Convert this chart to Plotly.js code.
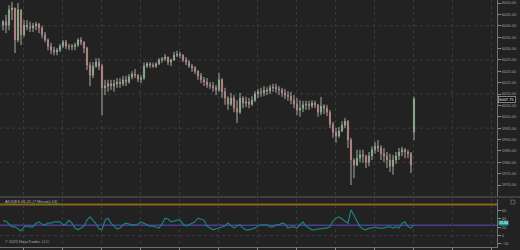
<!DOCTYPE html>
<html><head><meta charset="utf-8">
<script src="https://cdn.plot.ly/plotly-3.0.1.min.js"></script>
<style>html,body{margin:0;padding:0;background:#222;}#chart{width:520px;height:250px;}</style>
</head><body><div id="chart"></div>
<script>
const open = [6040.25, 6041.75, 6040.25, 6047, 6047.75, 6033.75, 6047, 6036, 6040.25, 6039.5,
6039, 6040, 6040.75, 6039, 6036, 6033.75, 6031, 6029.25, 6028.5, 6029.25,
6031, 6032.75, 6031, 6030.75, 6031, 6031.5, 6033.75, 6032.75, 6030.25, 6022.75,
6018.25, 6022.25, 6024, 6022.25, 6012.75, 6013.5, 6014.5, 6013.5, 6014.5, 6015.25,
6014.5, 6016.25, 6015.25, 6017.5, 6018.75, 6018.25, 6016.5, 6017, 6022.25, 6023.25,
6022.75, 6022.25, 6023.25, 6025, 6025.5, 6026.25, 6024, 6025, 6027, 6027.5,
6027, 6025, 6024, 6022.25, 6021.5, 6020, 6018, 6016.25, 6015.25, 6014,
6013.5, 6012.75, 6011.75, 6016.25, 6011, 6008.25, 6005.5, 6008.25, 6003.75, 6002,
6008.25, 6006, 6006.5, 6005.5, 6007.25, 6010, 6011, 6010.5, 6011.75, 6011.25,
6012.75, 6013, 6012.25, 6011.75, 6010.5, 6009.5, 6009, 6007.25, 6005.5, 6003,
6003.75, 6005.25, 6005.5, 6004.75, 6006, 6005.25, 6002, 6004.75, 6003.75, 6002,
5996.75, 5993.25, 5991.5, 5993.75, 5996.25, 5998, 5989.75, 5981, 5978.75, 5981.75,
5983.25, 5982.75, 5980, 5982.75, 5985.5, 5987, 5986.25, 5983.75, 5982.75, 5981,
5978.25, 5981, 5982.75, 5984.5, 5985.5, 5984.5, 5983.75, 5993.25];
const high = [6042.5, 6044.75, 6049, 6050.5, 6048, 6050, 6047.25, 6042.5, 6042.5, 6041.75,
6041.25, 6041.75, 6041.25, 6040, 6037.25, 6034.5, 6032.5, 6030.75, 6030.25, 6032,
6033.75, 6033.75, 6032, 6032, 6032.5, 6034.5, 6035, 6033.25, 6030.75, 6024,
6024, 6025.75, 6025.75, 6023.25, 6016.25, 6016.25, 6016.25, 6016.25, 6017, 6017,
6018, 6018, 6018.75, 6020, 6021, 6018.75, 6018.25, 6023.75, 6024, 6024,
6023.75, 6024, 6025.75, 6026.25, 6027.5, 6026.5, 6025.5, 6028.5, 6029, 6028.5,
6027.5, 6026.25, 6025, 6023.25, 6022.25, 6020.5, 6019.25, 6017.5, 6017, 6015.25,
6015.25, 6014, 6019.25, 6017, 6012.75, 6009, 6010.5, 6009.5, 6007.25, 6010.5,
6009, 6008.75, 6008.25, 6009, 6011.25, 6012.25, 6012.75, 6013.5, 6013, 6014,
6014.5, 6014.5, 6013.5, 6012.75, 6012.25, 6011.25, 6011, 6009.5, 6008.25, 6007.25,
6007, 6007, 6007, 6007.25, 6007, 6005.5, 6008.75, 6005.5, 6005.25, 6003,
5997.75, 5995, 5995.5, 5998, 5999.5, 5998.5, 5990.75, 5981.75, 5985.5, 5985.5,
5985.5, 5983.25, 5984.5, 5987, 5989, 5989.75, 5987.5, 5986.25, 5984.5, 5983.75,
5983.25, 5984.5, 5986.25, 5986.75, 5986.25, 5985.5, 5984.5, 6008.75];
const low = [6038, 6036.75, 6038, 6042.5, 6028, 6032.75, 6031.5, 6035, 6038, 6037.25,
6037.25, 6038, 6036.75, 6034.5, 6032.75, 6029.25, 6027.5, 6027, 6027, 6028.5,
6030.25, 6029.75, 6029.25, 6029.25, 6029.25, 6030.75, 6031.5, 6028, 6020.5, 6013.5,
6017, 6021.5, 6020.5, 6000.75, 6009.5, 6011, 6011.75, 6011, 6012.75, 6012.75,
6013.5, 6013.5, 6014.5, 6016.5, 6017, 6015.25, 6014.75, 6016.25, 6021.5, 6021.5,
6021.5, 6021.5, 6022.75, 6023.75, 6024.5, 6022.75, 6022.25, 6024.5, 6026.25, 6025.75,
6024, 6022.75, 6021.5, 6019.75, 6018.75, 6016.25, 6014.75, 6013.5, 6012.75, 6012.25,
6011, 6009.5, 6011, 6008.25, 6005.25, 6003, 6004.75, 6002, 5997.25, 6001.25,
6003.75, 6004.25, 6003.75, 6004.75, 6006.5, 6008.25, 6008.75, 6009, 6009.5, 6010,
6011, 6010.5, 6009.5, 6008.75, 6007.75, 6007, 6005.5, 6003.75, 6000.75, 6000,
6002, 6003, 6003, 6003.75, 6003.75, 6000, 6000.75, 6001.25, 6000.25, 5995,
5990.75, 5988.5, 5990.75, 5993.25, 5995, 5986.25, 5970, 5973, 5978.25, 5980,
5979.75, 5977.5, 5978.25, 5981, 5983.75, 5984.5, 5981, 5980, 5977.5, 5975.75,
5974.5, 5979.25, 5981, 5982.75, 5981.75, 5981.75, 5975.25, 5989.75];
const close = [6041.75, 6040.25, 6047, 6047.75, 6033.75, 6047, 6036, 6040.25, 6039.5, 6039,
6040, 6040.75, 6039, 6036, 6033.75, 6031, 6029.25, 6028.5, 6029.25, 6031,
6032.75, 6031, 6030.75, 6031, 6031.5, 6033.75, 6032.75, 6030.25, 6022.75, 6018.25,
6022.25, 6024, 6022.25, 6012.75, 6013.5, 6014.5, 6013.5, 6014.5, 6015.25, 6014.5,
6016.25, 6015.25, 6017.5, 6018.75, 6018.25, 6016.5, 6017, 6022.25, 6023.25, 6022.75,
6022.25, 6023.25, 6025, 6025.5, 6026.25, 6024, 6025, 6027, 6027.5, 6027,
6025, 6024, 6022.25, 6021.5, 6020, 6018, 6016.25, 6015.25, 6014, 6013.5,
6012.75, 6011.75, 6016.25, 6011, 6008.25, 6005.5, 6008.25, 6003.75, 6002, 6008.25,
6006, 6006.5, 6005.5, 6007.25, 6010, 6011, 6010.5, 6011.75, 6011.25, 6012.75,
6013, 6012.25, 6011.75, 6010.5, 6009.5, 6009, 6007.25, 6005.5, 6003, 6003.75,
6005.25, 6005.5, 6004.75, 6006, 6005.25, 6002, 6004.75, 6003.75, 6002, 5996.75,
5993.25, 5991.5, 5993.75, 5996.25, 5998, 5989.75, 5981, 5978.75, 5981.75, 5983.25,
5982.75, 5980, 5982.75, 5985.5, 5987, 5986.25, 5983.75, 5982.75, 5981, 5978.25,
5981, 5982.75, 5984.5, 5985.5, 5984.5, 5983.75, 5978.75, 6007.75];
const adx = [35, 35, 28, 21, 21, 16, 11, 21, 23, 21,
21, 30, 33, 28, 26, 30, 30, 33, 33, 33,
26, 28, 37, 30, 18, 14, 18, 23, 37, 45,
37, 28, 16, 14, 37, 42, 30, 23, 16, 18,
26, 30, 28, 26, 26, 28, 33, 30, 26, 23,
23, 21, 18, 28, 42, 40, 33, 35, 37, 37,
28, 23, 26, 30, 33, 42, 40, 37, 23, 18,
14, 16, 18, 21, 23, 30, 23, 18, 23, 26,
18, 14, 14, 16, 18, 23, 26, 26, 26, 21,
21, 26, 26, 30, 28, 18, 21, 21, 18, 26,
33, 23, 18, 14, 14, 16, 16, 18, 18, 21,
35, 42, 45, 40, 33, 30, 62, 47, 33, 21,
16, 14, 18, 18, 21, 18, 18, 18, 21, 21,
18, 21, 18, 30, 33, 21, 18, 25.84];
const priceTicks = [6050, 6045, 6040, 6035, 6030, 6025, 6020, 6015, 6010, 6005, 6000, 5995, 5990, 5985, 5980, 5975, 5970];
const priceGrid = [6040, 6025, 6010, 5995, 5980];
const adxTicks = [-20, 0, 20, 40, 60];
const adxLevels = [75, 25];
const indicatorTitle = 'ADX(ES 06-25 (7 Minute),14)';
const copyright = '\u00a9 2025 NinjaTrader, LLC';

const idx = close.map((_, i) => i);
const bodyHigh = open.map((o, i) => Math.max(o, close[i]));
const bodyLow = open.map((o, i) => Math.min(o, close[i]));
const lastPrice = close[close.length - 1];
const lastAdx = adx[adx.length - 1];

const traces = [
  {type:'ohlc', x:idx, open:open, high:high, low:low, close:close, xaxis:'x', yaxis:'y',
   tickwidth:0, increasing:{line:{color:'#a9a9a9', width:1}}, decreasing:{line:{color:'#a9a9a9', width:1}}, hoverinfo:'skip'},
  {type:'candlestick', x:idx, open:open, high:bodyHigh, low:bodyLow, close:close, xaxis:'x', yaxis:'y',
   increasing:{line:{color:'#86cc86', width:0.4}, fillcolor:'#74c474'},
   decreasing:{line:{color:'#dc7a7a', width:0.4}, fillcolor:'#d46464'}, hoverinfo:'skip'},
  {type:'scatter', mode:'lines', x:idx, y:adx, xaxis:'x2', yaxis:'y2',
   line:{color:'#1a7f80', width:1.2}, hoverinfo:'skip'}
];

const shapes = [];
priceGrid.forEach(v => shapes.push({type:'line', xref:'paper', yref:'y', x0:0, x1:1, y0:v, y1:v, layer:'below',
  line:{color:'#3c3c3c', width:1, dash:'dot'}}));
shapes.push({type:'line', xref:'paper', yref:'y2', x0:0, x1:1, y0:0, y1:0, layer:'below', line:{color:'#3c3c3c', width:1, dash:'dot'}});
shapes.push({type:'line', xref:'paper', yref:'y2', x0:0, x1:1, y0:adxLevels[0], y1:adxLevels[0], layer:'below', line:{color:'#86681f', width:2}});
shapes.push({type:'line', xref:'paper', yref:'y2', x0:0, x1:1, y0:adxLevels[1], y1:adxLevels[1], layer:'below', line:{color:'#4a3f8c', width:1.5}});
shapes.push({type:'line', xref:'paper', yref:'paper', x0:0, x1:1.05, y0:0.2024, y1:0.2024, line:{color:'#5c5c5c', width:1}});
shapes.push({type:'rect', xref:'paper', yref:'paper', x0:1.028, x1:1.036, y0:0.174, y1:0.190, line:{color:'#8a8a8a', width:0.6}});

const annotations = [
  {xref:'paper', yref:'paper', x:0.006, y:0.184, xanchor:'left', yanchor:'middle', showarrow:false,
   text:indicatorTitle, font:{size:4, color:'#b4b4b4'}},
  {xref:'paper', yref:'paper', x:0.006, y:0.021, xanchor:'left', yanchor:'middle', showarrow:false,
   text:copyright, font:{size:4, color:'#a8a8a8'}},
  {xref:'paper', yref:'y', x:1, y:lastPrice, xanchor:'left', yanchor:'middle', xshift:1, showarrow:false,
   text:lastPrice.toFixed(2), font:{size:4, color:'#ffffff'}, bgcolor:'#0e0e0e', bordercolor:'#d0d0d0', borderwidth:0.6, borderpad:0.6},
  {xref:'paper', yref:'y2', x:1, y:lastAdx, xanchor:'left', yanchor:'middle', xshift:1, yshift:2, showarrow:false,
   text:lastAdx.toFixed(2), font:{size:3.5, color:'#ffffff'}, bgcolor:'#1f9c9c', borderpad:0.2}
];

const layout = {
  width:520, height:250,
  margin:{l:0, r:23, t:0, b:3, pad:0},
  paper_bgcolor:'#222222', plot_bgcolor:'#222222',
  showlegend:false, boxgap:0.4,
  font:{family:'Liberation Sans, Arial, sans-serif', size:4, color:'#a8a8a8'},
  xaxis:{domain:[0,1], anchor:'y', range:[-1,164.67], showticklabels:false, ticks:'', showgrid:true,
    gridcolor:'#3a3a3a', griddash:'dot', gridwidth:1, tick0:6.67, dtick:13, zeroline:false,
    rangeslider:{visible:false}, showline:false},
  yaxis:{domain:[0.2065,1], anchor:'x', side:'right', range:[5965.17,6051.32], tickvals:priceTicks,
    ticktext:priceTicks.map(v => v.toFixed(2)), ticks:'outside', ticklen:3, tickcolor:'#8a8a8a', tickwidth:1,
    showline:true, linecolor:'#707070', linewidth:1, showgrid:false, zeroline:false,
    tickfont:{size:4, color:'#a0a0a0'}},
  xaxis2:{domain:[0,1], anchor:'y2', range:[-1,164.67], showticklabels:false, ticks:'outside', ticklen:3,
    tickcolor:'#8a8a8a', tick0:6.67, dtick:13, showline:true, linecolor:'#707070', showgrid:true,
    gridcolor:'#3a3a3a', griddash:'dot', zeroline:false},
  yaxis2:{domain:[0,0.1943], anchor:'x2', side:'right', range:[-27.4,88], tickvals:adxTicks,
    ticks:'outside', ticklen:3, tickcolor:'#8a8a8a', showline:true, linecolor:'#707070', showgrid:false,
    zeroline:false, tickfont:{size:4, color:'#a0a0a0'}},
  shapes:shapes, annotations:annotations
};

Plotly.newPlot('chart', traces, layout, {staticPlot:true, displayModeBar:false});
</script></body></html>
